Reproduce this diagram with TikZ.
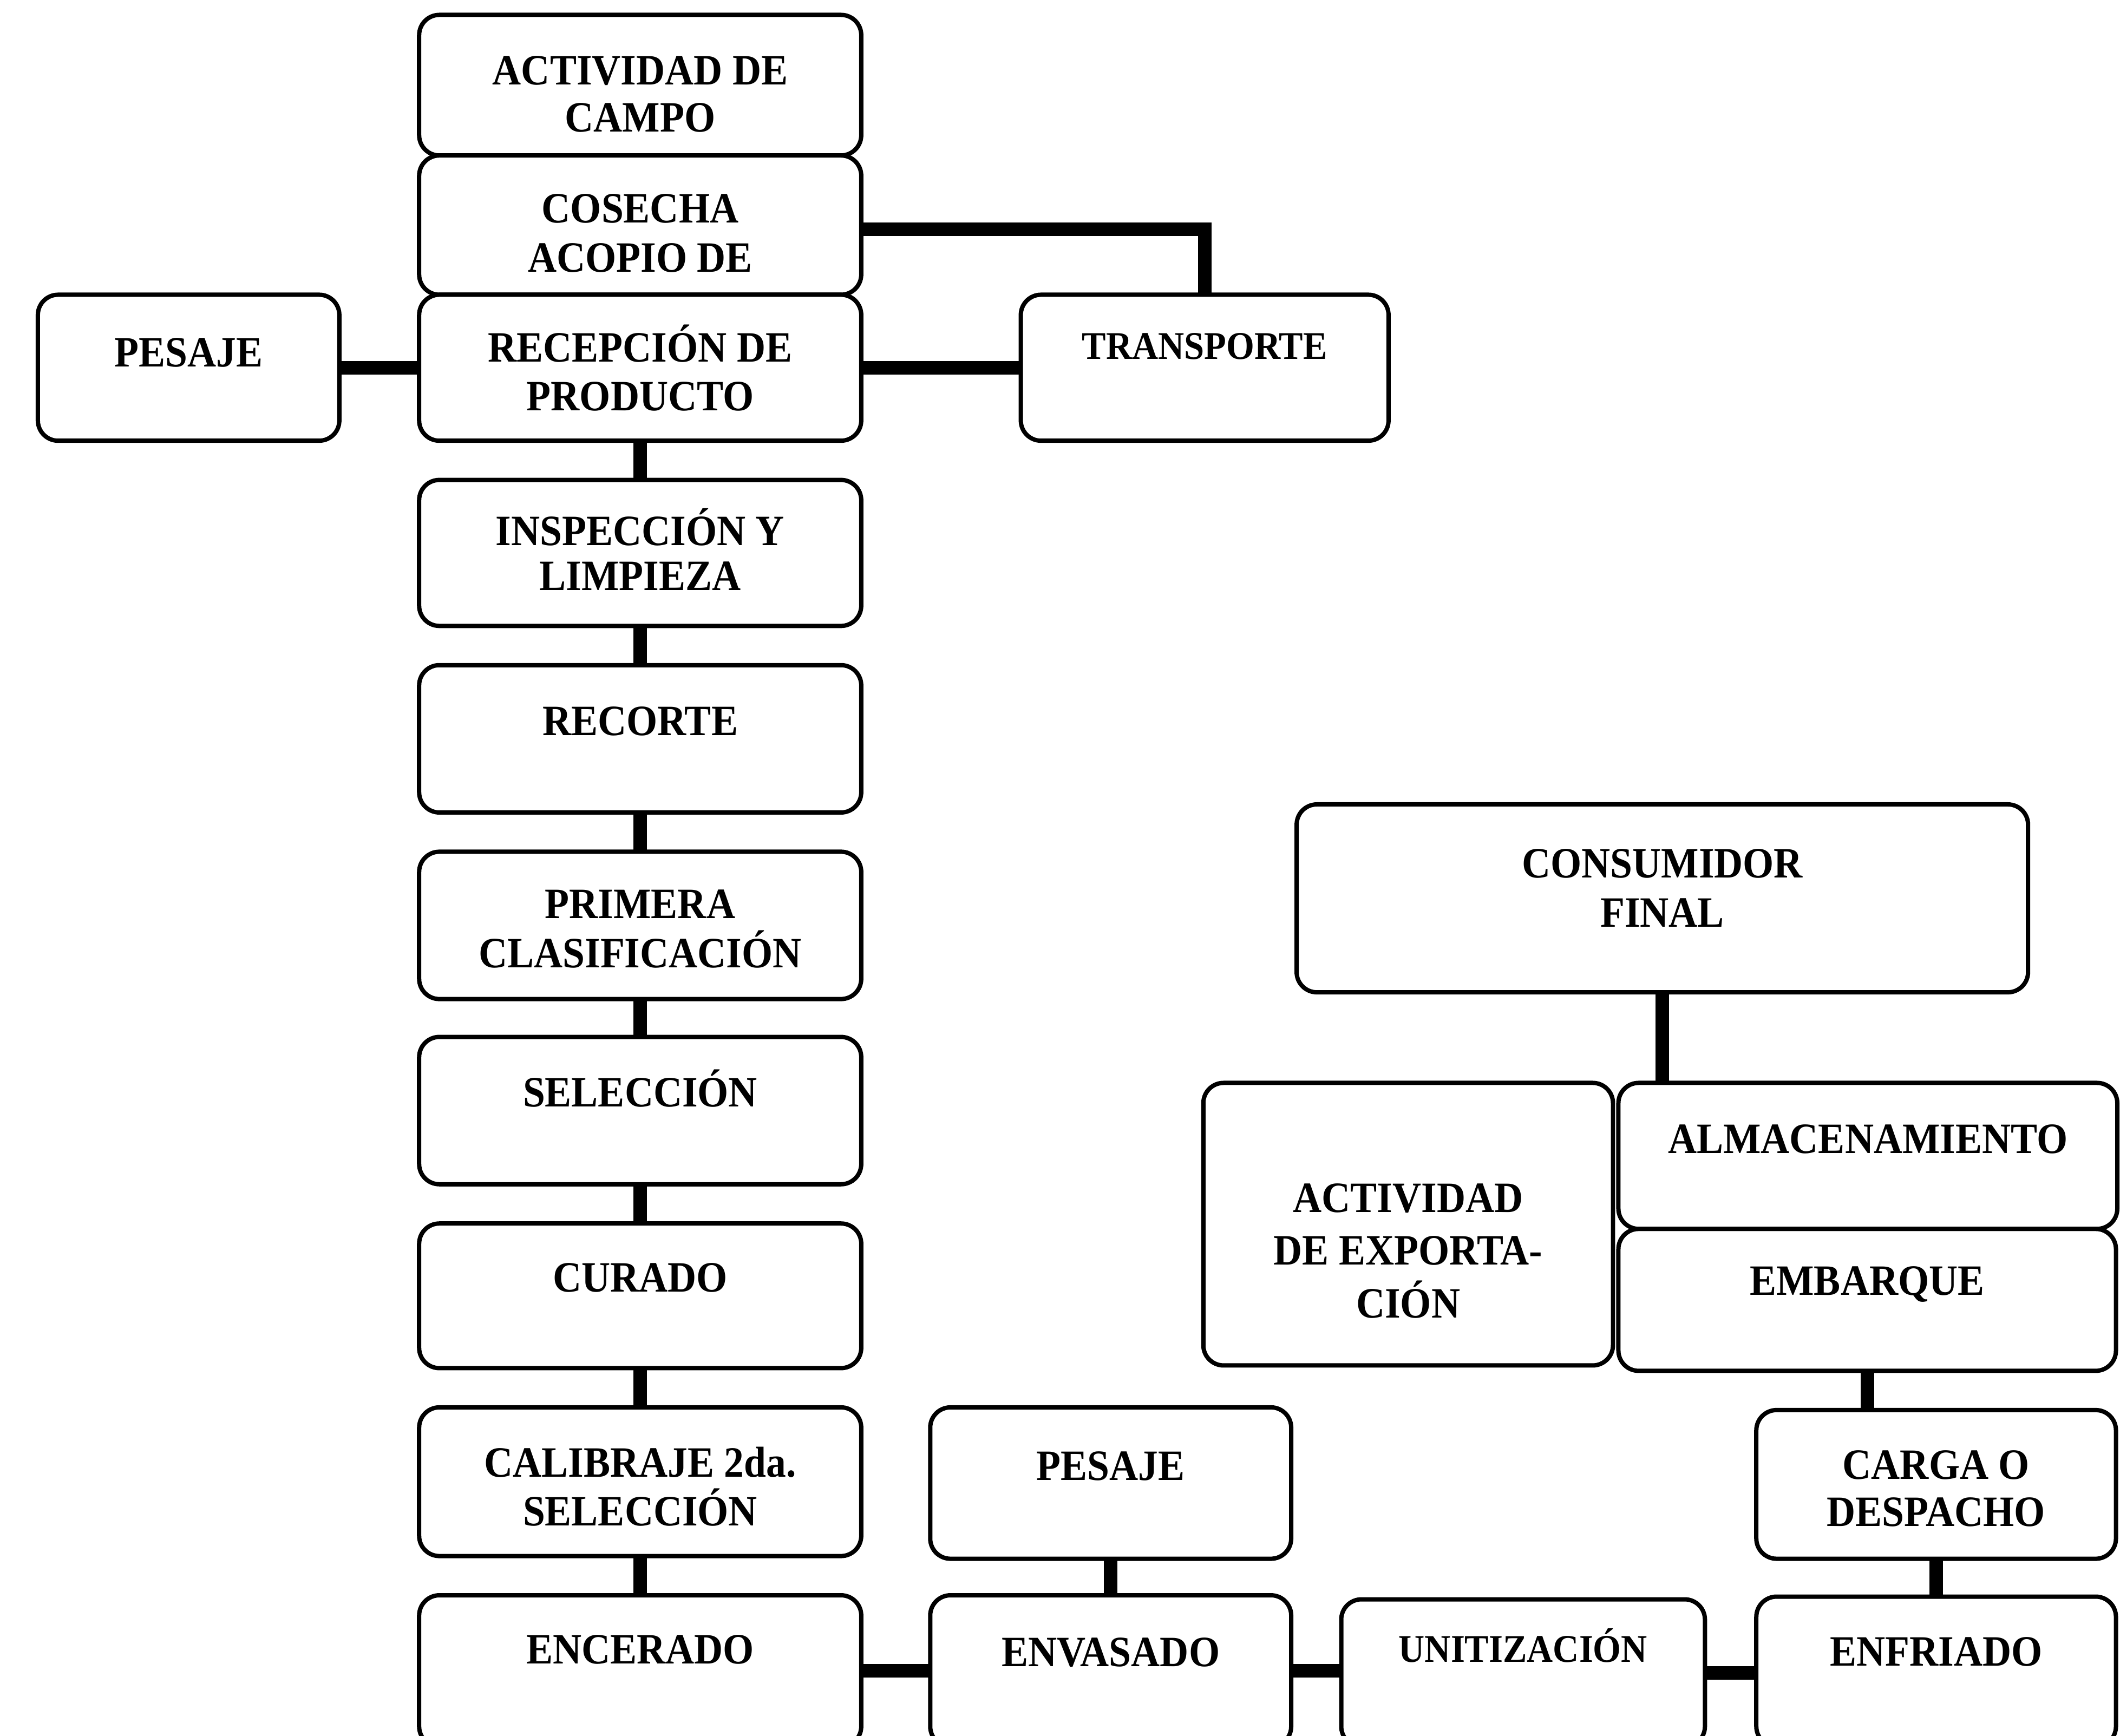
\documentclass[tikz,border=0pt]{standalone}
\usepackage{fontspec}
\setmainfont{Liberation Serif}[FakeStretch=0.92]

\tikzset{
  box/.style={draw, line width=3.2pt, rounded corners=15pt, inner sep=0pt,
    outer sep=0pt, fill=white},
  lbl/.style={font=\bfseries\fontsize{32}{#1}\selectfont, align=center,
    inner sep=0pt, anchor=base},
  lbl/.default=36,
  lblsm/.style={font=\bfseries\fontsize{29}{33}\selectfont, align=center,
    inner sep=0pt, anchor=base},
  link/.style={line width=10pt, line join=miter},
}

% rounded process box given by its corners: name, x1, y1, x2, y2
\newcommand\procbox[5]{%
  \node[box, minimum width={(#4-#2)*1pt}, minimum height={(#5-#3)*1pt}]
    (#1) at ({(#2+#4)/2},{(#3+#5)/2}) {};}

\begin{document}
\begin{tikzpicture}[x=1pt, y=-1pt]
  \useasboundingbox (0,0) rectangle (1568,1284);
  \clip (0,0) rectangle (1568,1284);
  \fill[white] (0,0) rectangle (1568,1284);

  % main column
  \procbox{campo}{310}{11}{637}{115}
  \procbox{cosecha}{310}{115}{637}{218}
  \procbox{recepcion}{310}{218}{637}{326}
  \procbox{inspeccion}{310}{355}{637}{463}
  \procbox{recorte}{310}{492}{637}{601}
  \procbox{primera}{310}{630}{637}{739}
  \procbox{seleccion}{310}{767}{637}{876}
  \procbox{curado}{310}{905}{637}{1012}
  \procbox{calibraje}{310}{1041}{637}{1151}
  \procbox{encerado}{310}{1180}{637}{1292}

  % side boxes at reception
  \procbox{pesajeA}{28}{218}{251}{326}
  \procbox{transporte}{755}{218}{1027}{326}

  % bottom row and dispatch branch
  \procbox{pesajeB}{688}{1041}{955}{1153}
  \procbox{envasado}{688}{1180}{955}{1292}
  \procbox{unitizacion}{992}{1183}{1261}{1292}
  \procbox{enfriado}{1299}{1181}{1565}{1292}
  \procbox{carga}{1299}{1043}{1565}{1153}
  \procbox{embarque}{1197}{909}{1565}{1014}
  \procbox{almacen}{1197}{801}{1566}{909}
  \procbox{exporta}{890}{801}{1193}{1010}
  \procbox{consumidor}{959}{595}{1500}{734}

  % labels (placed on the baseline of the last line)
  \node[lbl=35] (campo-t) at (473.5,97.6) {ACTIVIDAD DE\\CAMPO};
  \node[lbl=36.5] (cosecha-t) at (473.5,201.1) {COSECHA\\ACOPIO DE};
  \node[lbl=36] (recepcion-t) at (473.5,303.6) {RECEPCIÓN DE\\PRODUCTO};
  \node[lbl=33] (inspeccion-t) at (473.5,436.6) {INSPECCIÓN Y\\LIMPIEZA};
  \node[lbl] (recorte-t) at (473.5,544.1) {RECORTE};
  \node[lbl=36.5] (primera-t) at (473.5,715.6) {PRIMERA\\CLASIFICACIÓN};
  \node[lbl] (seleccion-t) at (473.5,818.6) {SELECCIÓN};
  \node[lbl] (curado-t) at (473.5,955.6) {CURADO};
  \node[lbl=36] (calibraje-t) at (473.5,1128.6) {CALIBRAJE 2da.\\SELECCIÓN};
  \node[lbl] (encerado-t) at (473.5,1230.6) {ENCERADO};

  \node[lbl] (pesajeA-t) at (139.5,271.1) {PESAJE};
  \node[lblsm] (transporte-t) at (891,265.6) {TRANSPORTE};

  \node[lbl] (pesajeB-t) at (821.5,1095.1) {PESAJE};
  \node[lbl] (envasado-t) at (821.5,1232.6) {ENVASADO};
  \node[lblsm] (unitizacion-t) at (1126.5,1229.6) {UNITIZACIÓN};
  \node[lbl] (enfriado-t) at (1432,1232.1) {ENFRIADO};
  \node[lbl=35] (carga-t) at (1432,1129.1) {CARGA O\\DESPACHO};
  \node[lbl] (embarque-t) at (1381,958.1) {EMBARQUE};
  \node[lbl] (almacen-t) at (1381.5,853.1) {ALMACENAMIENTO};
  \node[lbl=39] (exporta-t) at (1041.5,974.6) {ACTIVIDAD\\DE EXPORTA-\\CIÓN};
  \node[lbl=36.5] (consumidor-t) at (1229.5,685.6) {CONSUMIDOR\\FINAL};

  % connectors
  \draw[link] (pesajeA.east) -- (recepcion.west);
  \draw[link] (recepcion.east) -- (transporte.west);
  \draw[link] ([yshift=-3pt]cosecha.east) -| (transporte.north);
  \draw[link] (recepcion.south) -- (inspeccion.north);
  \draw[link] (inspeccion.south) -- (recorte.north);
  \draw[link] (recorte.south) -- (primera.north);
  \draw[link] (primera.south) -- (seleccion.north);
  \draw[link] (seleccion.south) -- (curado.north);
  \draw[link] (curado.south) -- (calibraje.north);
  \draw[link] (calibraje.south) -- (encerado.north);
  \draw[link] (pesajeB.south) -- (envasado.north);
  \draw[link] (encerado.east) -- (envasado.west);
  \draw[link] (envasado.east) -- (envasado.east -| unitizacion.west);
  \draw[link] (unitizacion.east) -- (unitizacion.east -| enfriado.west);
  \draw[link] (enfriado.north) -- (carga.south);
  \draw[link] (carga.north -| embarque.south) -- (embarque.south);
  \draw[link] (consumidor.south) -- (consumidor.south |- almacen.north);
\end{tikzpicture}
\end{document}
